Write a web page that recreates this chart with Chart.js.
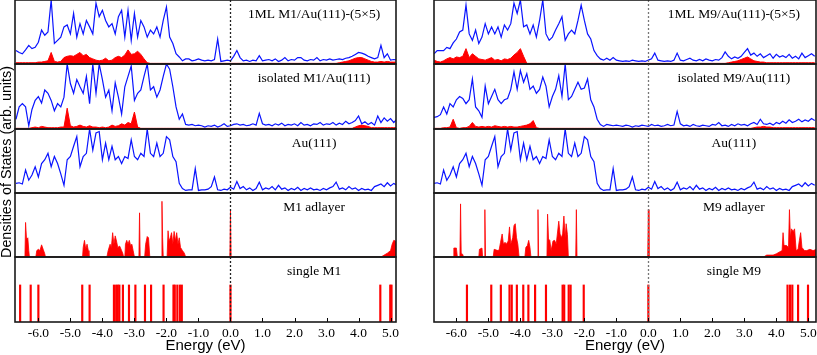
<!DOCTYPE html>
<html lang="en">
<head>
<meta charset="utf-8"/>
<script src="https://cdn.jsdelivr.net/npm/chart.js@4.4.1/dist/chart.umd.min.js"></script>
<style>
  body { margin: 0; background: #fff; }
  #wrap { position: relative; width: 817px; height: 355px; overflow: hidden; background: #fff; }
  #wrap canvas { position: absolute; }
</style>
</head>
<body>
<div id="wrap"></div>
<script>
// energy grid (eV) shared by the DOS curves
const energy = [-6.7,-6.6,-6.5,-6.4,-6.3,-6.2,-6.1,-6.0,-5.9,-5.8,-5.7,-5.6,-5.5,-5.4,-5.3,-5.2,-5.1,-5.0,-4.9,-4.8,
  -4.7,-4.6,-4.5,-4.4,-4.3,-4.2,-4.1,-4.0,-3.9,-3.8,-3.7,-3.6,-3.5,-3.4,-3.3,-3.2,-3.1,-3.0,-2.9,-2.8,
  -2.7,-2.6,-2.5,-2.4,-2.3,-2.2,-2.1,-2.0,-1.9,-1.8,-1.7,-1.6,-1.5,-1.4,-1.3,-1.2,-1.1,-1.0,-0.9,-0.8,
  -0.7,-0.6,-0.5,-0.4,-0.3,-0.2,-0.1,0.0,0.1,0.2,0.3,0.4,0.5,0.6,0.7,0.8,0.9,1.0,1.1,1.2,
  1.3,1.4,1.5,1.6,1.7,1.8,1.9,2.0,2.1,2.2,2.3,2.4,2.5,2.6,2.7,2.8,2.9,3.0,3.1,3.2,
  3.3,3.4,3.5,3.6,3.7,3.8,3.9,4.0,4.1,4.2,4.3,4.4,4.5,4.6,4.7,4.8,4.9,5.0,5.1,5.2];

// 1ML M1/Au(111)-(5x5): total (blue) and M1 projected (red)
const m1MlTotal = [0.21,0.18,0.16,0.22,0.29,0.24,0.26,0.34,0.53,0.45,
  0.50,1.00,0.32,0.37,0.42,0.58,0.61,0.47,0.79,0.42,
  0.63,0.47,0.68,0.58,0.47,0.95,0.74,0.84,0.68,0.58,
  0.63,0.47,0.74,0.84,0.42,0.84,0.37,0.79,0.42,0.68,
  0.58,0.42,0.53,0.47,0.58,0.42,0.68,0.89,0.42,0.32,
  0.16,0.11,0.05,0.08,0.08,0.05,0.06,0.08,0.06,
  0.05,0.06,0.05,0.07,0.39,0.04,0.05,0.06,0.05,0.12,
  0.21,0.10,0.05,0.06,0.04,0.06,0.05,0.13,0.05,0.06,
  0.07,0.05,0.08,0.04,0.06,0.10,0.05,0.07,0.06,0.10,
  0.10,0.06,0.05,0.07,0.06,0.10,0.05,0.07,0.06,0.08,
  0.06,0.07,0.08,0.07,0.09,0.10,0.12,0.15,0.18,0.17,
  0.15,0.12,0.10,0.08,0.10,0.29,0.10,0.16,0.06,0.07,0.06];
const m1MlPart = [0.02,0.02,0.02,0.02,0.02,0.02,0.02,0.03,0.03,0.04,
  0.05,0.18,0.04,0.03,0.04,0.10,0.12,0.13,0.12,0.15,
  0.18,0.13,0.15,0.10,0.08,0.06,0.05,0.06,0.09,0.05,
  0.06,0.10,0.12,0.10,0.14,0.22,0.15,0.16,0.20,0.15,
  0.08,0.02,
  0.01,0.01,0.01,0.01,0.01,0.01,0.01,0.01,0.01,0.01,
  0.01,0.01,0.01,0.01,0.01,0.01,0.01,0.01,0.01,0.01,
  0.01,0.01,0.01,0.01,0.01,0.01,0.01,0.01,0.01,0.01,
  0.01,0.01,0.01,0.01,0.01,0.01,0.01,0.01,0.01,0.01,
  0.01,0.01,0.01,0.01,0.01,0.01,0.01,0.01,0.01,0.01,
  0.01,0.01,0.01,0.01,0.01,0.01,0.01,0.01,0.01,
  0.02,0.03,0.04,0.05,0.07,0.09,0.10,0.10,0.08,0.06,
  0.04,0.03,0.03,0.04,0.03,0.04,0.03,0.03,0.03];

// isolated M1/Au(111)
const m1IsoTotal = [0.15,0.34,0.39,0.34,0.05,0.30,0.44,0.50,0.40,0.60,
  0.55,0.44,0.28,0.39,0.34,0.49,1.00,0.70,0.55,0.76,
  0.65,0.55,0.81,0.39,1.00,0.55,1.00,0.76,0.49,0.60,
  0.28,0.71,0.49,0.23,0.65,0.81,0.97,0.44,0.55,0.60,
  0.81,1.00,0.60,0.65,0.49,0.60,0.81,1.00,0.92,0.65,
  0.34,0.15,0.23,0.07,0.06,0.07,0.05,0.06,0.05,
  0.03,0.05,0.04,0.06,0.03,0.05,0.08,0.04,0.05,0.07,
  0.08,0.06,0.07,0.05,0.06,0.08,0.06,0.24,0.08,0.06,
  0.07,0.05,0.08,0.06,0.09,0.05,0.07,0.06,0.08,0.05,
  0.10,0.06,0.07,0.05,0.08,0.07,0.10,0.06,0.08,0.07,
  0.10,0.06,0.09,0.07,0.12,0.08,0.10,0.13,0.20,0.08,
  0.11,0.07,0.10,0.06,0.20,0.10,0.17,0.12,0.16,0.10,0.15];
const m1IsoPart = [0.01,0.01,0.01,0.01,0.01,
  0.02,0.03,0.02,0.04,0.03,0.02,0.02,0.02,0.02,0.03,
  0.03,0.32,0.05,0.03,0.04,0.06,0.04,0.03,0.05,0.03,
  0.03,0.02,0.03,0.02,0.03,0.06,0.04,0.05,0.08,0.06,
  0.10,0.08,0.26,0.03,
  0.01,0.01,0.01,0.01,0.01,0.01,0.01,0.01,0.01,0.01,
  0.01,0.01,0.01,0.01,0.01,0.01,0.01,0.01,0.01,0.01,
  0.01,0.01,0.01,0.01,0.01,0.01,0.01,0.01,0.01,0.01,
  0.01,0.01,0.01,0.01,0.01,0.01,0.01,0.01,0.01,0.01,
  0.01,0.01,0.01,0.01,0.01,0.01,0.01,0.01,0.01,0.01,
  0.01,0.01,0.01,0.01,0.01,0.01,0.01,0.01,0.01,0.01,
  0.01,0.01,0.01,0.01,0.01,0.01,0.01,
  0.03,0.05,0.06,0.05,0.04,0.02,0.02,0.02,0.02,0.02,0.02,0.02,0.02,0.02];

// clean Au(111) surface
const auTotal = [0.15,0.16,0.14,0.36,0.20,0.28,0.41,0.25,0.46,0.52,
  0.62,0.41,0.57,0.46,0.30,0.12,0.52,0.57,0.73,0.88,
  0.41,0.57,0.62,1.00,0.67,0.94,0.96,0.52,0.78,0.52,
  0.73,0.52,0.57,0.46,0.57,0.54,0.83,0.57,0.52,0.62,
  0.57,1.00,0.62,0.57,0.78,0.57,0.62,0.88,0.83,0.57,
  0.49,0.15,0.07,0.04,0.05,0.05,0.38,0.04,0.05,
  0.05,0.06,0.10,0.25,0.05,0.04,0.06,0.05,0.09,0.06,
  0.18,0.07,0.10,0.05,0.08,0.04,0.07,0.17,0.05,0.08,
  0.06,0.10,0.05,0.12,0.06,0.08,0.04,0.07,0.05,0.09,
  0.04,0.07,0.05,0.08,0.05,0.06,0.04,0.07,0.05,0.08,
  0.10,0.17,0.06,0.08,0.05,0.10,0.06,0.08,0.04,0.07,
  0.05,0.06,0.04,0.10,0.12,0.14,0.10,0.16,0.11,0.15,0.12];

// 1ML M9/Au(111)-(5x5)
const m9MlTotal = [0.16,0.21,0.21,0.21,0.26,0.24,0.33,0.39,0.50,0.53,
  0.92,0.47,0.37,0.53,0.32,0.42,0.63,0.47,0.58,0.47,
  0.58,0.42,0.61,0.53,0.63,0.95,0.79,1.00,0.58,0.61,
  0.47,0.61,0.42,0.68,1.00,0.47,0.37,0.42,0.53,0.63,
  0.74,0.37,0.47,0.53,0.47,0.68,0.92,0.68,0.47,0.39,
  0.21,0.13,0.08,0.06,0.09,0.06,0.10,0.06,0.05,
  0.04,0.05,0.04,0.06,0.05,0.04,0.05,0.04,0.06,0.08,
  0.17,0.06,0.05,0.04,0.05,0.04,0.06,0.17,0.06,0.05,
  0.07,0.09,0.06,0.05,0.07,0.05,0.08,0.06,0.05,0.07,
  0.06,0.10,0.19,0.12,0.08,0.11,0.09,0.12,0.18,0.24,
  0.14,0.17,0.12,0.16,0.10,0.13,0.16,0.09,0.15,0.11,
  0.13,0.10,0.15,0.09,0.12,0.08,0.17,0.10,0.13,0.16,0.12];
const m9MlPart = [0.06,0.04,0.03,0.05,0.08,0.10,0.08,0.11,0.10,0.12,
  0.24,0.10,0.16,0.12,0.08,0.07,0.06,0.08,0.10,0.06,
  0.07,0.05,0.08,0.07,0.09,0.14,0.18,0.24,0.12,0.01,
  0.01,0.01,0.01,0.01,0.01,0.01,0.01,0.01,0.01,0.01,
  0.01,0.01,0.01,0.01,0.01,0.01,0.01,0.01,0.01,0.01,
  0.01,0.01,0.01,0.01,0.01,0.01,0.01,0.01,0.01,0.01,
  0.01,0.01,0.01,0.01,0.01,0.01,0.01,0.01,0.01,0.01,
  0.01,0.01,0.01,0.01,0.01,0.01,0.01,0.01,0.01,0.01,
  0.01,0.01,0.01,0.01,0.01,0.01,0.01,0.01,0.01,0.01,
  0.01,0.01,
  0.02,0.03,0.04,0.05,0.07,0.09,0.11,0.08,0.05,0.04,0.03,0.03,
  0.02,0.02,0.02,0.02,0.02,0.02,0.02,0.02,0.02,0.02,0.02,0.02,0.02,0.02,0.02,0.02];

// isolated M9/Au(111)
const m9IsoTotal = [0.18,0.19,0.22,0.34,0.23,0.39,0.34,0.45,0.50,0.47,
  0.39,0.45,0.77,0.34,0.28,0.18,0.66,0.39,0.50,0.61,
  0.45,0.39,0.45,0.47,0.61,0.88,0.61,0.90,0.72,0.85,
  0.61,0.66,0.55,0.61,0.80,0.66,0.34,0.50,0.61,0.82,
  0.50,1.00,0.45,0.50,0.61,0.72,0.61,0.63,0.77,0.45,
  0.34,0.15,0.07,0.04,0.07,0.06,0.05,0.06,0.05,
  0.04,0.06,0.05,0.03,0.05,0.04,0.06,0.05,0.04,0.07,
  0.05,0.06,0.04,0.05,0.07,0.05,0.06,0.27,0.08,0.05,
  0.06,0.04,0.07,0.05,0.04,0.06,0.05,0.04,0.07,0.06,
  0.10,0.05,0.06,0.04,0.07,0.05,0.08,0.06,0.07,0.05,
  0.08,0.10,0.07,0.15,0.08,0.07,0.09,0.06,0.10,0.08,
  0.12,0.09,0.14,0.10,0.12,0.15,0.11,0.14,0.12,0.16,0.13];
const m9IsoPart = [0.01,0.01,0.01,0.02,0.02,0.03,0.15,0.02,0.01,0.02,
  0.02,0.04,0.10,0.04,0.03,0.04,0.03,0.04,0.03,0.05,
  0.04,0.03,0.04,0.03,0.04,0.03,0.03,0.04,0.05,0.06,
  0.08,0.13,0.02,
  0.01,0.01,0.01,0.01,0.01,0.01,0.01,0.01,0.01,0.01,
  0.01,0.01,0.01,0.01,0.01,0.01,0.01,0.01,0.01,0.01,
  0.01,0.01,0.01,0.01,0.01,0.01,0.01,0.01,0.01,0.01,
  0.01,0.01,0.01,0.01,0.01,0.01,0.01,0.01,0.01,0.01,
  0.01,0.01,0.01,0.01,0.01,0.01,0.01,0.01,0.01,0.01,
  0.01,0.01,0.01,0.01,0.01,0.01,0.01,0.01,0.01,0.01,
  0.01,0.01,0.01,0.01,0.01,0.01,0.01,
  0.02,0.03,0.03,0.04,0.03,0.03,0.02,
  0.02,0.02,0.02,0.02,0.02,0.02,0.02,0.02,0.02,0.02,0.02,0.02,0.02];

// free-standing adlayers (peak outlines)
const m1AdE = [-6.72,-6.42,-6.40,-6.37,-6.33,-6.30,-6.28, -6.08,-6.05,-6.00,-5.95,-5.90,-5.85,-5.80,-5.78,
  -4.62,-4.60,-4.56,-4.52,-4.48,-4.44,-4.42, -3.86,-3.82,-3.76,-3.72,-3.68,-3.64,-3.60,-3.56,-3.52,-3.46,-3.40,-3.36,-3.34,
  -3.30,-3.28,-3.24,-3.20,-3.16,-3.12,-3.08,-3.04,-3.00, -2.86,-2.84,-2.82, -2.68,-2.65,-2.60,-2.56,-2.52,
  -2.16,-2.14,-2.12,-2.10, -1.98,-1.95,-1.92,-1.88,-1.84,-1.80,-1.76,-1.72,-1.68,-1.64,-1.60,-1.56,-1.50,-1.44,-1.40,
  -0.02,0.00,0.02, 4.70,4.80,4.90,5.00,5.05,5.10,5.15,5.20];
const m1AdV = [0,0,0.54,0.28,0.30,0.10,0, 0,0.10,0.12,0.10,0.19,0.12,0.05,0,
  0,0.15,0.26,0.12,0.20,0.10,0, 0,0.10,0.20,0.15,0.38,0.20,0.33,0.25,0.15,0.17,0.10,0.05,0,
  0,0.20,0.26,0.20,0.26,0.18,0.20,0.10,0, 0,0.69,0, 0,0.20,0.32,0.30,0,
  0,0.87,0.30,0, 0,0.41,0.25,0.30,0.38,0.20,0.40,0.25,0.38,0.20,0.30,0.15,0.10,0.06,0,
  0,0.72,0, 0,0.03,0.06,0.10,0.20,0.26,0.25,0.22];
const m9AdE = [-6.10,-6.08,-6.00,-5.97, -5.89,-5.87,-5.85,-5.80,-5.78, -5.30,-5.28,-5.20,-5.18, -5.13,-5.11,-5.09,
  -4.85,-4.82,-4.70,-4.66,-4.62,-4.57,-4.53,-4.48,-4.44,-4.38,-4.34,-4.30,-4.24,-4.20,-4.16,-4.12,-4.08,-4.04,
  -3.86,-3.83,-3.78,-3.74,-3.70,-3.67, -3.47,-3.45,-3.43,
  -3.17,-3.15,-3.12,-3.08,-3.04,-2.98,-2.93,-2.88,-2.80,-2.76,-2.72,-2.68,-2.64,-2.60,-2.57,-2.53,-2.50,
  -2.27,-2.25,-2.23, -0.02,0.00,0.02,
  3.60,3.70,3.90,4.00,4.10,4.18,4.21,4.24,4.32,4.38,4.41,4.44,4.47,4.53,4.57,4.62,4.68,4.72,4.76,4.80,4.88,4.95,5.05,5.15,5.25];
const m9AdV = [0,0.14,0.14,0, 0,0.83,0.06,0.04,0, 0,0.12,0.14,0, 0,0.74,0,
  0,0.12,0.10,0.12,0.23,0.36,0.20,0.23,0.20,0.25,0.47,0.20,0.30,0.49,0.52,0.30,0.20,0,
  0,0.15,0.18,0.26,0.15,0, 0,0.74,0,
  0,0.67,0.28,0.26,0.10,0.25,0.26,0.20,0.56,0.36,0.30,0.36,0.64,0.30,0.52,0.35,0,
  0,0.74,0, 0,0.74,0,
  0,0.03,0.03,0.05,0.08,0.10,0.38,0.18,0.18,0.15,0.74,0.30,0.44,0.40,0.44,0.10,0.12,0.26,0.38,0.15,0.10,0.10,0.12,0.10,0.12];

// single molecule levels
const m1LevelE = [-6.57,-6.24,-6.00,-4.63,-4.40,-3.64,-3.57,-3.52,-3.47,-3.36,-3.17,-2.97,-2.67,-2.48,-2.09,-1.78,-1.74,-1.66,-1.58,-1.52,0.00,4.68,4.99,5.03];
const m1LevelH = [0.57,0.57,0.57,0.57,0.57,0.57,0.57,0.57,0.57,0.57,0.57,0.57,0.57,0.57,0.57,0.57,0.57,0.57,0.57,0.57,0.57,0.57,0.57,0.57];
const m9LevelE = [-5.67,-4.91,-4.61,-4.34,-4.27,-4.11,-3.91,-3.75,-3.54,-3.20,-2.68,-2.63,-2.49,-2.43,-2.02,0.00,4.35,4.43,4.50,4.68,4.99];
const m9LevelH = [0.57,0.57,0.57,0.57,0.57,0.57,0.57,0.57,0.57,0.57,0.57,0.57,0.57,0.57,0.57,0.57,0.57,0.57,0.57,0.57,0.57];

const leftLabels = ['1ML M1/Au(111)-(5\u00d75)', 'isolated M1/Au(111)', 'Au(111)', 'M1 adlayer', 'single M1'];
const rightLabels = ['1ML M9/Au(111)-(5\u00d75)', 'isolated M9/Au(111)', 'Au(111)', 'M9 adlayer', 'single M9'];
const yTitle = 'Densities of States (arb. units)';

const ROW_TOP = [0, 64, 129, 193, 257];
const ROW_BOTTOM = [64, 129, 193, 257, 322];
const BLUE = '#0a14ff';
const RED = '#ff0000';
const SERIF = '"Liberation Serif", "Times New Roman", serif';

function pts(xs, ys) {
  return xs.map((x, i) => ({x: x, y: ys[i]}));
}

const decor = {
  id: 'decor',
  afterDraw(chart, args, opts) {
    const ctx = chart.ctx, a = chart.chartArea, x = chart.scales.x;
    ctx.save();
    // Fermi level
    const x0 = Math.round(x.getPixelForValue(0)) + 0.5;
    ctx.strokeStyle = opts.fermiColor;
    ctx.lineWidth = 1.3;
    ctx.setLineDash([2, 2]);
    ctx.beginPath();
    ctx.moveTo(x0, a.top);
    ctx.lineTo(x0, a.bottom);
    ctx.stroke();
    ctx.setLineDash([]);
    // inward ticks on the bottom axis
    if (opts.ticks) {
      ctx.strokeStyle = '#000';
      ctx.lineWidth = 1;
      x.ticks.forEach(t => {
        const p = Math.round(x.getPixelForValue(t.value)) + 0.5;
        ctx.beginPath();
        ctx.moveTo(p, a.bottom);
        ctx.lineTo(p, a.bottom - 4);
        ctx.stroke();
      });
    }
    // frame
    ctx.strokeStyle = '#1a1a1a';
    ctx.lineWidth = 1.6;
    ctx.strokeRect(a.left, a.top, a.right - a.left, a.bottom - a.top);
    // panel label
    ctx.fillStyle = '#000';
    ctx.font = '13.5px ' + SERIF;
    ctx.textAlign = 'center';
    ctx.textBaseline = 'middle';
    ctx.fillText(opts.label, a.left + 0.785 * (a.right - a.left), a.top + 14);
    ctx.restore();
  }
};

function addChart(areaLeft, areaRight, row, datasets, label, xMin, xMax, fermiColor) {
  const bottomRow = row === 4;
  const canvas = document.createElement('canvas');
  const top = ROW_TOP[row] - 2;
  const height = bottomRow ? 355 - top : ROW_BOTTOM[row] - ROW_TOP[row] + 4;
  canvas.width = areaRight - areaLeft + 40;
  canvas.height = height;
  canvas.style.left = (areaLeft - 20) + 'px';
  canvas.style.top = top + 'px';
  document.getElementById('wrap').appendChild(canvas);

  const xScale = {
    type: 'linear', min: xMin, max: xMax, offset: false,
    display: bottomRow,
    grid: {display: false, drawTicks: false},
    border: {display: false},
    ticks: {
      stepSize: 1, includeBounds: false, autoSkip: false, maxRotation: 0, padding: 3,
      color: '#000', font: {family: SERIF, size: 13.5},
      callback: v => Number(v).toFixed(1)
    },
    title: {
      display: true, text: 'Energy (eV)', color: '#000',
      font: {family: '"Liberation Sans", Arial, sans-serif', size: 15}, padding: {top: 0, bottom: 0}
    }
  };
  if (bottomRow) {
    xScale.afterFit = s => { s.height = 33; };
  }

  new Chart(canvas, {
    type: 'line',
    data: {datasets: datasets},
    options: {
      responsive: false,
      animation: false,
      devicePixelRatio: 1,
      layout: {padding: {left: 20, right: 20, top: 2, bottom: bottomRow ? 0 : 2}},
      elements: {point: {radius: 0}, line: {tension: 0}},
      plugins: {
        legend: {display: false},
        tooltip: {enabled: false},
        decor: {label: label, fermiColor: fermiColor, ticks: bottomRow}
      },
      scales: {
        x: xScale,
        y: {display: false, min: 0, max: 1}
      }
    },
    plugins: [decor]
  });
}

function total(values) {
  return {data: pts(energy, values), borderColor: BLUE, borderWidth: 1.2, fill: false};
}
function part(values) {
  return {data: pts(energy, values), borderColor: RED, backgroundColor: RED, borderWidth: 1, fill: 'origin'};
}
function peaks(xs, ys) {
  return {data: pts(xs, ys), borderColor: RED, backgroundColor: RED, borderWidth: 0.8, fill: 'origin'};
}
function levels(xs, ys) {
  return {type: 'bar', data: pts(xs, ys), backgroundColor: RED, barThickness: 1.5};
}

function panel(areaLeft, areaRight, xMin, xMax, fermiColor, labels, sets) {
  sets.forEach((ds, i) => addChart(areaLeft, areaRight, i, ds, labels[i], xMin, xMax, fermiColor));
}

panel(15, 396, -6.73, 5.17, '#222', leftLabels, [
  [total(m1MlTotal), part(m1MlPart)],
  [total(m1IsoTotal), part(m1IsoPart)],
  [total(auTotal)],
  [peaks(m1AdE, m1AdV)],
  [levels(m1LevelE, m1LevelH)]
]);

panel(434, 816, -6.70, 5.24, '#777', rightLabels, [
  [total(m9MlTotal), part(m9MlPart)],
  [total(m9IsoTotal), part(m9IsoPart)],
  [total(auTotal)],
  [peaks(m9AdE, m9AdV)],
  [levels(m9LevelE, m9LevelH)]
]);

// shared vertical axis title, drawn rotated on its own strip
(function () {
  const c = document.createElement('canvas');
  c.width = 16; c.height = 355;
  c.style.left = '0px'; c.style.top = '0px';
  document.getElementById('wrap').appendChild(c);
  const ctx = c.getContext('2d');
  ctx.font = '14px "Liberation Sans", Arial, sans-serif';
  const w = ctx.measureText(yTitle).width;
  const size = 14 * 192 / w;
  ctx.font = size.toFixed(2) + 'px "Liberation Sans", Arial, sans-serif';
  ctx.fillStyle = '#000';
  ctx.textAlign = 'center';
  ctx.textBaseline = 'middle';
  ctx.translate(7.5, 162);
  ctx.rotate(-Math.PI / 2);
  ctx.fillText(yTitle, 0, 0);
})();
</script>
</body>
</html>
